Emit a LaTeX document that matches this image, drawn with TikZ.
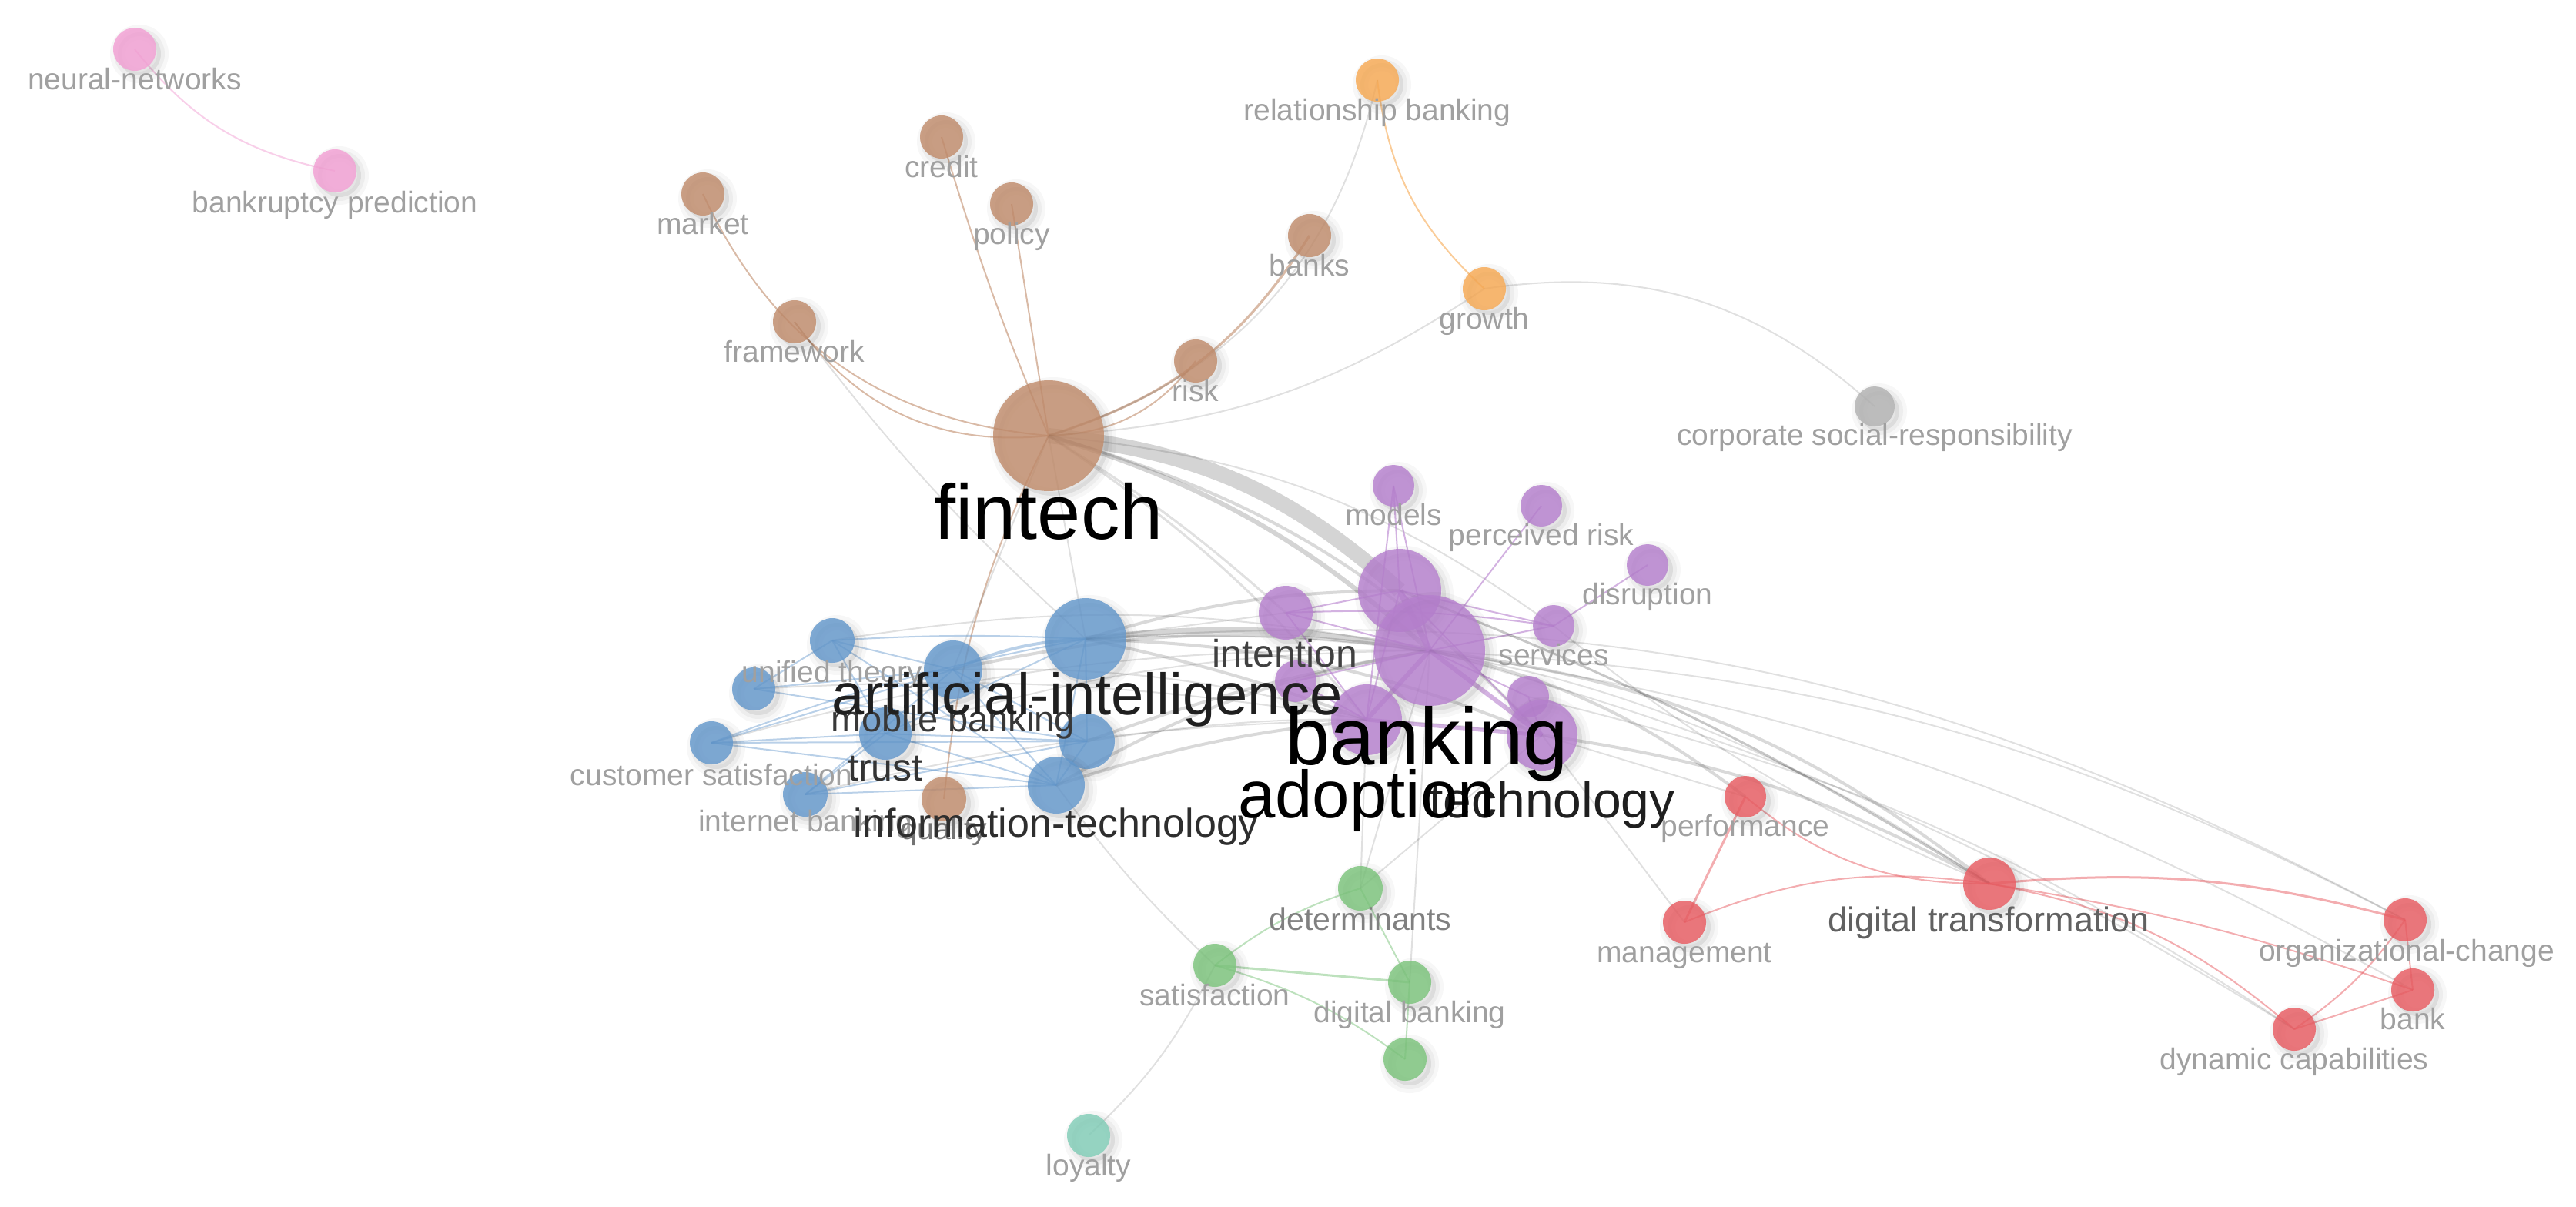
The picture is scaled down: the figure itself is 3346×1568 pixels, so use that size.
\documentclass[tikz,border=0pt]{standalone}
\usepackage{fontspec}
\setmainfont{Liberation Sans}
\pgfdeclarelayer{bglayer}
\pgfdeclarelayer{edgelayer}
\pgfsetlayers{bglayer,edgelayer,main}
\definecolor{cbrown}{RGB}{193,140,108}
\definecolor{cblue}{RGB}{100,152,204}
\definecolor{cpurple}{RGB}{182,128,206}
\definecolor{cred}{RGB}{233,92,98}
\definecolor{cgreen}{RGB}{124,196,124}
\definecolor{corange}{RGB}{248,170,84}
\definecolor{cpink}{RGB}{243,160,212}
\definecolor{cgray}{RGB}{178,178,178}
\definecolor{cteal}{RGB}{130,206,184}
\definecolor{lblgray}{RGB}{160,160,160}
\begin{document}
\begin{tikzpicture}[x=0.5pt,y=-0.5pt,
  nd/.style={circle,draw=none,inner sep=0pt,outer sep=0pt,fill opacity=0.82,
    preaction={draw=black,draw opacity=0.03,line width=10pt,fill=black,fill opacity=0.03,transform canvas={xshift=3pt,yshift=-3pt}},
    preaction={draw=black,draw opacity=0.04,line width=5pt,fill=black,fill opacity=0.04,transform canvas={xshift=3pt,yshift=-3pt}}},
  lbl/.style={inner sep=0pt,anchor=base,text=lblgray,font=\fontsize{19.5}{22}\selectfont},
  big/.style={inner sep=0pt,anchor=base},
  eg/.style={draw=black,draw opacity=0.12,line width=1pt},
  egm/.style={draw=black,draw opacity=0.15,line width=2pt},
  egt/.style={draw=black,draw opacity=0.17,line width=4pt},
  ebrown/.style={draw=cbrown,draw opacity=0.6,line width=1pt},
  eorange/.style={draw=corange,draw opacity=0.6,line width=1pt},
  epink/.style={draw=cpink,draw opacity=0.5,line width=1pt},
  eblue/.style={draw=cblue,draw opacity=0.45,line width=1pt},
  epurple/.style={draw=cpurple,draw opacity=0.6,line width=1pt},
  ered/.style={draw=cred,draw opacity=0.5,line width=1pt},
  egreen/.style={draw=cgreen,draw opacity=0.5,line width=1pt}
]
\begin{pgfonlayer}{bglayer}
\fill[white] (0,0) rectangle (3346,1568);
\end{pgfonlayer}
\useasboundingbox (0,0) rectangle (3346,1568);

% ---------- nodes ----------
% pink
\node[nd,fill=cpink,minimum size=28pt] (nn) at (175,64) {};
\node[nd,fill=cpink,minimum size=28pt] (bp) at (435,222) {};
% brown
\node[nd,fill=cbrown,minimum size=28pt] (market) at (913,252) {};
\node[nd,fill=cbrown,minimum size=28pt] (credit) at (1223,178) {};
\node[nd,fill=cbrown,minimum size=28pt] (policy) at (1314,265) {};
\node[nd,fill=cbrown,minimum size=28pt] (banks) at (1701,306) {};
\node[nd,fill=cbrown,minimum size=28pt] (framework) at (1032,418) {};
\node[nd,fill=cbrown,minimum size=28pt] (risk) at (1553,469) {};
\node[nd,fill=cbrown,minimum size=72pt] (fintech) at (1362,566) {};
\node[nd,fill=cbrown,minimum size=29pt] (quality) at (1226,1038) {};
% orange / gray
\node[nd,fill=corange,minimum size=28pt] (relb) at (1789,104) {};
\node[nd,fill=corange,minimum size=28pt] (growth) at (1928,375) {};
\node[nd,fill=cgray,minimum size=26pt] (csr) at (2435,528) {};
% purple
\node[nd,fill=cpurple,minimum size=27pt] (models) at (1810,631) {};
\node[nd,fill=cpurple,minimum size=27pt] (prisk) at (2002,657) {};
\node[nd,fill=cpurple,minimum size=27pt] (disr) at (2140,734) {};
\node[nd,fill=cpurple,minimum size=27pt] (services) at (2018,813) {};
\node[nd,fill=cpurple,minimum size=35pt] (intention) at (1670,796) {};
\node[nd,fill=cpurple,minimum size=54pt] (pbig) at (1818,767) {};
\node[nd,fill=cpurple,minimum size=72pt] (banking) at (1857,845) {};
\node[nd,fill=cpurple,minimum size=27pt] (padd) at (1683,885) {};
\node[nd,fill=cpurple,minimum size=27pt] (ptwo) at (1985,905) {};
\node[nd,fill=cpurple,minimum size=46pt] (adoption) at (1775,935) {};
\node[nd,fill=cpurple,minimum size=46pt] (technology) at (2003,955) {};
% blue
\node[nd,fill=cblue,minimum size=53pt] (ai) at (1410,830) {};
\node[nd,fill=cblue,minimum size=29pt] (ut) at (1081,832) {};
\node[nd,fill=cblue,minimum size=28pt] (bc) at (979,895) {};
\node[nd,fill=cblue,minimum size=28pt] (cs) at (924,965) {};
\node[nd,fill=cblue,minimum size=34pt] (trust) at (1150,953) {};
\node[nd,fill=cblue,minimum size=38pt] (mb) at (1238,870) {};
\node[nd,fill=cblue,minimum size=36pt] (bf) at (1412,963) {};
\node[nd,fill=cblue,minimum size=37pt] (it) at (1372,1020) {};
\node[nd,fill=cblue,minimum size=29pt] (ib) at (1046,1032) {};
% red
\node[nd,fill=cred,minimum size=27pt] (perf) at (2267,1035) {};
\node[nd,fill=cred,minimum size=28pt] (mgmt) at (2188,1198) {};
\node[nd,fill=cred,minimum size=34pt] (dt) at (2584,1148) {};
\node[nd,fill=cred,minimum size=28pt] (oc) at (3124,1195) {};
\node[nd,fill=cred,minimum size=28pt] (bank) at (3134,1286) {};
\node[nd,fill=cred,minimum size=28pt] (dc) at (2980,1337) {};
% green / teal
\node[nd,fill=cgreen,minimum size=29pt] (det) at (1767,1154) {};
\node[nd,fill=cgreen,minimum size=28pt] (sat) at (1578,1254) {};
\node[nd,fill=cgreen,minimum size=28pt] (dbank) at (1831,1276) {};
\node[nd,fill=cgreen,minimum size=28pt] (gfour) at (1825,1376) {};
\node[nd,fill=cteal,minimum size=28pt] (loyalty) at (1414,1475) {};

% ---------- edges ----------
\begin{pgfonlayer}{edgelayer}
\draw[epink] (nn.center) to[bend right=20] (bp.center);
% brown
\draw[ebrown] (market.center) to[bend right=30] (fintech.center);
\draw[ebrown] (framework.center) to[bend right=30] (fintech.center);
\draw[ebrown] (credit.center) to[bend right=3] (fintech.center);
\draw[ebrown] (policy.center) -- (fintech.center);
\draw[ebrown,line width=1.6pt] (banks.center) to[bend left=20] (fintech.center);
\draw[ebrown] (risk.center) to[bend left=25] (fintech.center);
\draw[ebrown] (fintech.center) to[bend right=10] (quality.center);
\draw[eorange] (relb.center) to[bend right=20] (growth.center);
\draw[eg] (relb.center) to[bend left=30] (fintech.center);
\draw[eg] (growth.center) to[bend left=15] (fintech.center);
\draw[eg] (growth.center) to[bend left=25] (csr.center);
\draw[eg] (framework.center) to[bend right=5] (ai.center);
% fintech to purple
\draw[draw=black,draw opacity=0.17,line width=10pt] (fintech.center) to[bend left=18] (pbig.center);
\draw[egt,line width=3pt] (fintech.center) to[bend left=12] (banking.center);
\draw[egm] (fintech.center) to[bend left=15] (technology.center);
\draw[eg,line width=1.5pt] (fintech.center) to[bend left=8] (adoption.center);
\draw[eg] (fintech.center) -- (ai.center);
\draw[eg,line width=1.5pt] (fintech.center) to[bend left=5] (intention.center);
\draw[eg] (fintech.center) -- (mb.center);
\draw[eg] (fintech.center) to[bend left=15] (services.center);
% blue to purple
\draw[egt] (ai.center) to[bend left=8] (banking.center);
\draw[egm] (ai.center) to[bend left=8] (pbig.center);
\draw[egm] (ai.center) to[bend left=4] (adoption.center);
\draw[egm] (ai.center) to[bend left=10] (technology.center);
\draw[eg] (ai.center) -- (intention.center);
\draw[egm] (mb.center) to[bend left=10] (banking.center);
\draw[eg] (mb.center) to[bend left=8] (adoption.center);
\draw[eg] (trust.center) to[bend left=8] (banking.center);
\draw[egm] (it.center) to[bend left=10] (banking.center);
\draw[egm] (it.center) to[bend left=6] (adoption.center);
\draw[egm] (bf.center) to[bend left=5] (banking.center);
\draw[eg] (bf.center) to[bend left=8] (technology.center);
\draw[eg] (cs.center) to[bend left=8] (banking.center);
\draw[eg] (ut.center) to[bend left=10] (banking.center);
\draw[eg] (bc.center) to[bend left=6] (adoption.center);
\draw[eg] (ib.center) to[bend left=6] (adoption.center);
% blue cluster
\draw[eblue] (ut.center) to[bend left=3] (ai.center);
\draw[eblue] (ut.center) -- (mb.center);
\draw[eblue] (ut.center) -- (trust.center);
\draw[eblue] (ut.center) -- (bc.center);
\draw[eblue] (ut.center) -- (it.center);
\draw[eblue] (bc.center) -- (mb.center);
\draw[eblue] (bc.center) -- (bf.center);
\draw[eblue] (cs.center) -- (mb.center);
\draw[eblue] (cs.center) -- (trust.center);
\draw[eblue] (cs.center) -- (it.center);
\draw[eblue] (cs.center) -- (bf.center);
\draw[eblue] (cs.center) to[bend left=5] (ai.center);
\draw[eblue] (trust.center) -- (it.center);
\draw[eblue] (trust.center) -- (bf.center);
\draw[eblue] (trust.center) -- (ai.center);
\draw[eblue,line width=2pt] (mb.center) to[bend left=10] (ai.center);
\draw[eblue] (mb.center) -- (it.center);
\draw[eblue] (mb.center) -- (bf.center);
\draw[eblue] (ib.center) -- (mb.center);
\draw[eblue] (ib.center) -- (trust.center);
\draw[eblue] (ib.center) -- (it.center);
\draw[eblue] (ib.center) -- (bf.center);
\draw[eblue] (it.center) -- (ai.center);
\draw[eblue] (bf.center) -- (ai.center);
\draw[eblue] (it.center) -- (bf.center);
% purple cluster
\draw[epurple] (banking.center) -- (models.center);
\draw[epurple] (pbig.center) -- (models.center);
\draw[epurple] (banking.center) -- (prisk.center);
\draw[epurple] (services.center) -- (disr.center);
\draw[epurple] (banking.center) -- (services.center);
\draw[epurple] (pbig.center) -- (services.center);
\draw[epurple] (intention.center) to[bend left=5] (services.center);
\draw[epurple,line width=3pt] (banking.center) -- (technology.center);
\draw[epurple,line width=3pt] (banking.center) -- (adoption.center);
\draw[epurple,line width=4pt] (pbig.center) -- (banking.center);
\draw[epurple] (pbig.center) -- (adoption.center);
\draw[epurple] (pbig.center) -- (intention.center);
\draw[epurple] (pbig.center) -- (technology.center);
\draw[epurple] (banking.center) -- (intention.center);
\draw[epurple] (ptwo.center) -- (banking.center);
\draw[epurple] (ptwo.center) -- (technology.center);
\draw[epurple] (padd.center) -- (banking.center);
\draw[epurple] (padd.center) -- (adoption.center);
\draw[epurple] (intention.center) -- (adoption.center);
\draw[epurple,line width=2.5pt] (adoption.center) -- (technology.center);
\draw[epurple] (models.center) -- (adoption.center);
% purple to red
\draw[egm] (banking.center) to[bend left=12] (perf.center);
\draw[egm] (banking.center) to[bend left=15] (dt.center);
\draw[draw=black,draw opacity=0.22,line width=1.5pt] (pbig.center) to[bend left=5] (dt.center);
\draw[eg] (banking.center) to[bend left=12] (oc.center);
\draw[eg] (banking.center) to[bend left=10] (bank.center);
\draw[eg] (banking.center) to[bend left=8] (dc.center);
\draw[egm] (technology.center) to[bend left=10] (dt.center);
\draw[eg] (technology.center) -- (mgmt.center);
\draw[eg] (technology.center) -- (perf.center);
\draw[eg] (ai.center) to[bend left=18] (dt.center);
\draw[eg] (ai.center) to[bend left=16] (oc.center);
\draw[eg] (services.center) to[bend right=8] (dt.center);
\draw[eg] (ptwo.center) to[bend left=10] (dc.center);
% red
\draw[ered,line width=1.5pt] (perf.center) -- (mgmt.center);
\draw[ered] (perf.center) to[bend right=20] (dt.center);
\draw[ered] (mgmt.center) to[bend left=15] (dt.center);
\draw[ered,line width=1.5pt] (dt.center) to[bend left=10] (oc.center);
\draw[ered] (dt.center) to[bend left=5] (bank.center);
\draw[ered] (dt.center) to[bend left=15] (dc.center);
\draw[ered] (dc.center) to[bend right=10] (oc.center);
\draw[ered] (dc.center) -- (bank.center);
\draw[ered] (oc.center) -- (bank.center);
% green
\draw[egreen] (det.center) to[bend right=10] (sat.center);
\draw[egreen,line width=1.5pt] (sat.center) -- (dbank.center);
\draw[egreen] (sat.center) to[bend left=10] (gfour.center);
\draw[egreen] (det.center) -- (dbank.center);
\draw[egreen] (dbank.center) -- (gfour.center);
\draw[eg] (det.center) -- (adoption.center);
\draw[eg] (det.center) -- (banking.center);
\draw[eg] (det.center) -- (technology.center);
\draw[eg] (dbank.center) -- (banking.center);
\draw[eg] (it.center) to[bend right=5] (sat.center);
\draw[eg] (sat.center) to[bend left=10] (loyalty.center);
\end{pgfonlayer}

% ---------- small labels ----------
\node[lbl] (nn-l) at (175,117) {neural-networks};
\node[lbl] (bp-l) at (435,276) {bankruptcy prediction};
\node[lbl] (market-l) at (913,304) {market};
\node[lbl] (credit-l) at (1223,230) {credit};
\node[lbl] (policy-l) at (1314,317) {policy};
\node[lbl] (banks-l) at (1701,358) {banks};
\node[lbl] (framework-l) at (1032,470) {framework};
\node[lbl] (risk-l) at (1553,521) {risk};
\node[lbl] (relb-l) at (1789,156) {relationship banking};
\node[lbl] (growth-l) at (1928,427) {growth};
\node[lbl] (csr-l) at (2435,578) {corporate social-responsibility};
\node[lbl] (models-l) at (1810,682) {models};
\node[lbl] (prisk-l) at (2002,708) {perceived risk};
\node[lbl] (disr-l) at (2140,785) {disruption};
\node[lbl] (services-l) at (2018,864) {services};
\node[lbl] (ut-l) at (1081,886) {unified theory};
\node[lbl] (cs-l) at (924,1020) {customer satisfaction};
\node[lbl] (ib-l) at (1046,1080) {internet banking};
\node[lbl,text=black!55] (quality-l) at (1226,1090) {quality};
\node[lbl] (perf-l) at (2267,1086) {performance};
\node[lbl] (mgmt-l) at (2188,1250) {management};
\node[lbl] (oc-l) at (3126,1248) {organizational-change};
\node[lbl] (bank-l) at (3134,1337) {bank};
\node[lbl] (dc-l) at (2980,1389) {dynamic capabilities};
\node[lbl] (sat-l) at (1578,1306) {satisfaction};
\node[lbl] (dbank-l) at (1831,1328) {digital banking};
\node[lbl] (loyalty-l) at (1414,1527) {loyalty};
\node[lbl,text=black!50,font=\fontsize{20.5}{22}\selectfont] (det-l) at (1767,1208) {determinants};
\node[big,text=black!62,font=\fontsize{22.5}{24}\selectfont] (dt-l) at (2583,1210) {digital transformation};

% ---------- large labels ----------
\node[big,text=black!78,font=\fontsize{23.5}{25}\selectfont] (mb-l) at (1238,950) {mobile banking};
\node[big,text=black!80,font=\fontsize{25}{27}\selectfont] (trust-l) at (1150,1014) {trust};
\node[big,text=black!75,font=\fontsize{25}{27}\selectfont] (intention-l) at (1669,866) {intention};
\node[big,text=black!82,font=\fontsize{26}{28}\selectfont] (it-l) at (1372,1087) {information-technology};
\node[big,text=black!88,font=\fontsize{38}{40}\selectfont] (ai-l) at (1412,928) {artificial-intelligence};
\node[big,text=black!88,font=\fontsize{33}{35}\selectfont] (technology-l) at (2016,1062) {technology};
\node[big,text=black,font=\fontsize{43.5}{45}\selectfont] (adoption-l) at (1775,1062) {adoption};
\node[big,text=black,font=\fontsize{52.5}{55}\selectfont] (banking-l) at (1853,993) {banking};
\node[big,text=black,font=\fontsize{50.5}{53}\selectfont] (fintech-l) at (1362,700) {fintech};
\end{tikzpicture}
\end{document}
